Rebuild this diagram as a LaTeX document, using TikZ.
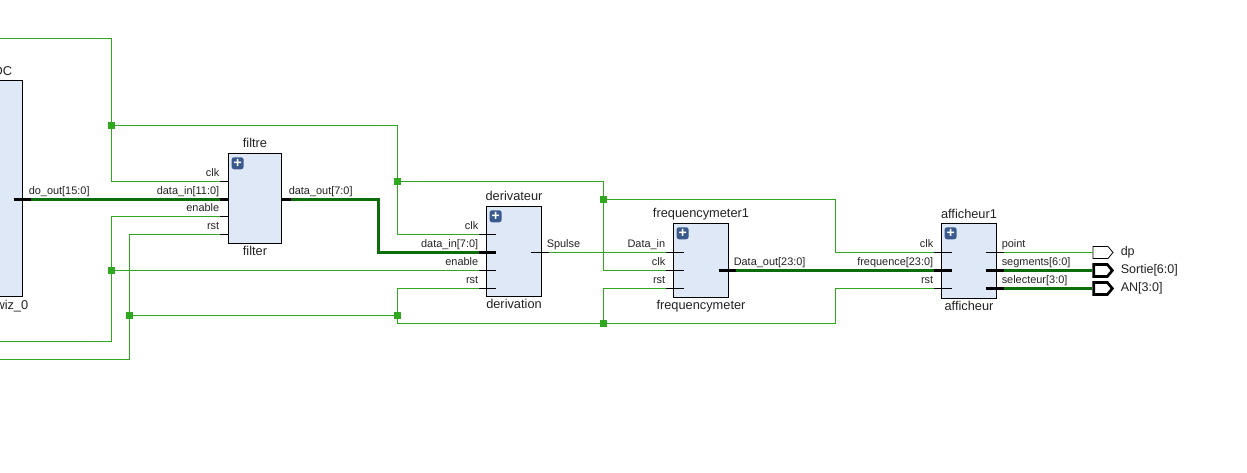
\documentclass[tikz,border=0pt]{standalone}
\usepackage{fontspec}
\setmainfont{Liberation Sans}
\usetikzlibrary{arrows.meta,positioning,shapes.symbols,calc}
\definecolor{rtlwire}{HTML}{2FA81F}
\definecolor{rtlbus}{HTML}{0B6E0B}
\definecolor{rtlfill}{HTML}{DEE8F7}
\definecolor{rtlicon}{HTML}{3A5A8E}
\definecolor{rtltext}{HTML}{222222}
\tikzset{
  block/.style={draw=black,fill=rtlfill,line width=0.75pt,inner sep=0pt},
  title/.style={font=\fontsize{9.6}{11}\selectfont,text=rtltext,inner sep=0pt,
                text height=7.2pt,text depth=2pt},
  plus/.style={fill=rtlicon,text=white,rounded corners=1.8pt,inner sep=0pt,
               minimum size=9pt,text height=6.2pt,text depth=0pt,
               font=\fontsize{10.5}{10.5}\bfseries\selectfont},
  plab/.style={font=\fontsize{8.2}{10}\selectfont,text=rtltext,inner sep=0pt,
               text height=6.2pt,text depth=1.8pt},
  thin stub/.style={line width=0.75pt,black},
  bus stub/.style={line width=2.8pt,black},
  wire/.style={line width=0.75pt,rtlwire},
  bus/.style={line width=2.4pt,rtlbus},
  netdot/.style={fill=rtlwire,inner sep=0pt,minimum size=4.8pt},
  oport/.style={signal,signal to=east,signal pointer angle=100,draw=black,fill=white,
                line width=0.6pt,inner sep=0pt,minimum width=15pt,minimum height=9pt},
  obus/.style={oport,line width=2pt,minimum width=14pt,minimum height=9pt},
  olab/.style={font=\fontsize{9.4}{11}\selectfont,text=rtltext,inner sep=0pt},
}
\begin{document}
\begin{tikzpicture}[x=0.75pt,y=-0.75pt]
  \clip (0,0) rectangle (1247,473);
  \begin{scope}[shift={(0.5,0.5)}]
  % blocks
  \foreach \n/\cx/\cy/\w/\h in
    {adc/-39/188/122/216,
     filtre/254.5/198/53/90,
     deriv/513.5/251/55/90,
     freqm/700.5/260/55/74,
     affich/968.5/260.5/55/75}
    {\node[block,minimum width=\w*0.75pt,minimum height=\h*0.75pt] (\n) at (\cx,\cy) {};}
  \node[title,above=1.6pt of filtre] (filtre t) {filtre};
  \node[title,below=1.6pt of filtre] (filtre b) {filter};
  \node[title,above=1.6pt of deriv] (deriv t) {derivateur};
  \node[title,below=1.6pt of deriv] (deriv b) {derivation};
  \node[title,above=1.6pt of freqm] (freqm t) {frequencymeter1};
  \node[title,below=1.6pt of freqm] (freqm b) {frequencymeter};
  \node[title,above=1pt of affich] (affich t) {afficheur1};
  \node[title,below=1.6pt of affich] (affich b) {afficheur};
  \node[title,anchor=base east] (adc t) at (12,75) {DC};
  \node[title,anchor=base east] (adc b) at (28,309) {wiz\_0};
  \foreach \n in {filtre,deriv,freqm,affich}
    {\node[plus,anchor=north west] (\n p) at ([xshift=2.5pt,yshift=-3pt]\n.north west) {+};}
  % ports, left side
  \foreach \n/\xo/\xi/\y/\t/\s in
    {fclk/219/228/181/clk/thin stub,
     fdin/219/228/199/{data\_in[11:0]}/bus stub,
     fen/219/228/216/enable/thin stub,
     frst/219/228/234/rst/thin stub,
     dclk/478/495/234/clk/thin stub,
     ddin/478/495/252/{data\_in[7:0]}/bus stub,
     den/478/495/270/enable/thin stub,
     drst/478/495/288/rst/thin stub,
     qdin/665/683/252/Data\_in/thin stub,
     qclk/665/683/270/clk/thin stub,
     qrst/665/683/288/rst/thin stub,
     aclk/933/951/252/clk/thin stub,
     afrq/933/951/270/{frequence[23:0]}/bus stub,
     arst/933/951/288/rst/thin stub}
    {\coordinate (\n) at (\xo,\y);
     \draw[\s] (\n) -- (\xi,\y);
     \node[plab,anchor=south east] (\n l) at (\xo,\y-2) {\t};}
  % ports, right side
  \foreach \n/\xi/\xo/\y/\t/\s in
    {adout/13/30/199/{do\_out[15:0]}/bus stub,
     fdout/281/290/199/{data\_out[7:0]}/bus stub,
     dspl/530/548/252/Spulse/thin stub,
     qout/718/735/270/{Data\_out[23:0]}/bus stub,
     apnt/985/1003/252/point/thin stub,
     aseg/985/1003/270/{segments[6:0]}/bus stub,
     asel/985/1003/288/{selecteur[3:0]}/bus stub}
    {\coordinate (\n) at (\xo,\y);
     \draw[\s] (\xi,\y) -- (\n);
     \node[plab,anchor=south west] (\n l) at (\xo-2,\y-2) {\t};}
  % top level outputs
  \node[oport] (pdp) at (1100,252) {};
  \node[obus] (pseg) at (1100,270) {};
  \node[obus] (psel) at (1100,288) {};
  \node[olab,anchor=west] (pdp l) at (1120,252) {dp};
  \node[olab,anchor=west] (pseg l) at (1120,270) {Sortie[6:0]};
  \node[olab,anchor=west] (psel l) at (1120,288) {AN[3:0]};
  % net ends and bends
  \coordinate (clkin) at (-1,38);
  \coordinate (enin) at (-1,341);
  \coordinate (rstin) at (-1,359);
  \coordinate (clkb) at (835,252);
  \coordinate (rstb) at (835,288);
  \coordinate (busb) at (378,252);
  \node[netdot] (jc1) at (111,125) {};
  \node[netdot] (jc2) at (397,181) {};
  \node[netdot] (jc3) at (603,199) {};
  \node[netdot] (je1) at (111,270) {};
  \node[netdot] (jr1) at (129,315) {};
  \node[netdot] (jr2) at (397,315) {};
  \node[netdot] (jr3) at (603,323) {};
  % clock
  \draw[wire] (clkin) -| (jc1.center) |- (fclk);
  \draw[wire] (jc1.center) -| (jc2.center) |- (dclk);
  \draw[wire] (jc2.center) -| (jc3.center) |- (qclk);
  \draw[wire] (jc3.center) -| (clkb) -- (aclk);
  % enable
  \draw[wire] (enin) -| (je1.center) |- (fen);
  \draw[wire] (je1.center) -- (den);
  % reset
  \draw[wire] (rstin) -| (jr1.center) |- (frst);
  \draw[wire] (jr1.center) -- (jr2.center) |- (drst);
  \draw[wire] (jr2.center) |- (jr3.center) |- (qrst);
  \draw[wire] (jr3.center) -| (rstb) -- (arst);
  % signals
  \draw[wire] (dspl) -- (qdin);
  \draw[wire] (apnt) -- (pdp.west);
  \draw[bus] (adout) -- (fdin);
  \draw[bus] (fdout) -| (busb) -- (ddin);
  \draw[bus] (qout) -- (afrq);
  \draw[bus] (aseg) -- (pseg.west);
  \draw[bus] (asel) -- (psel.west);
  \end{scope}
\end{tikzpicture}
\end{document}
